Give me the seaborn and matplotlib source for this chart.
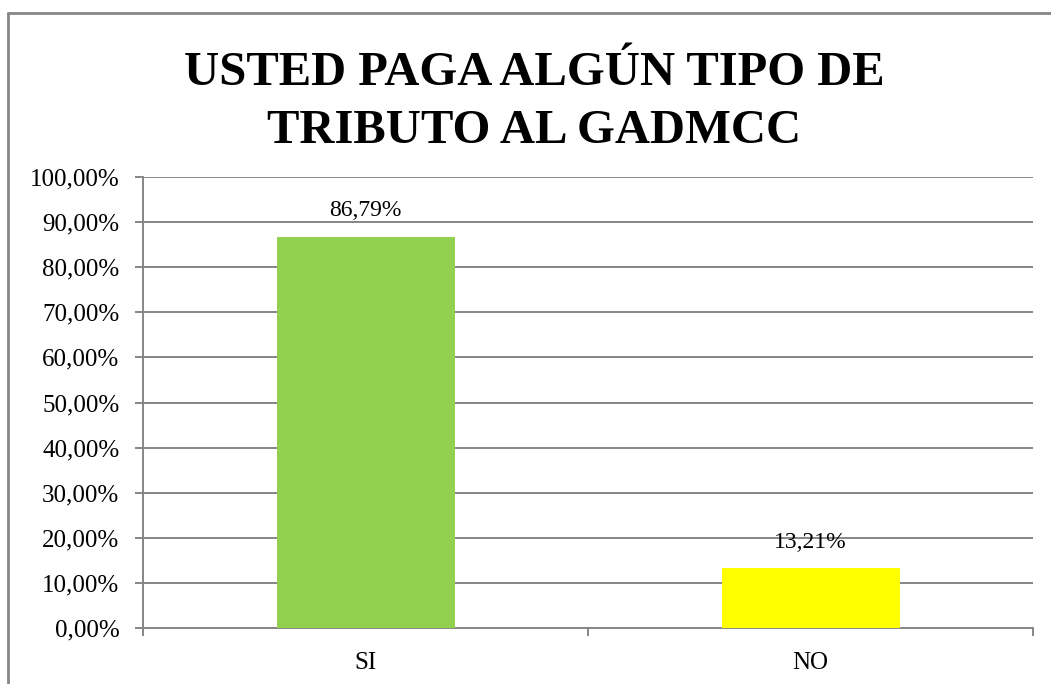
import matplotlib
matplotlib.use("Agg")
import matplotlib.pyplot as plt
import matplotlib.ticker as mticker
from matplotlib.lines import Line2D
import pandas as pd
import seaborn as sns

categories = ["SI", "NO"]
values = [86.79, 13.21]
bar_colors = ["#92D050", "#FFFF00"]
title = "USTED PAGA ALGÚN TIPO DE\nTRIBUTO AL GADMCC"

GRAY = "#868686"

sns.set_theme(style="white")
plt.rcParams["font.family"] = ["Liberation Serif", "DejaVu Serif"]
plt.rcParams["text.color"] = "black"
plt.rcParams["xtick.color"] = "black"
plt.rcParams["ytick.color"] = "black"

df = pd.DataFrame({"respuesta": categories, "pct": values})

fig = plt.figure(figsize=(10.51, 6.84), dpi=100)
ax = fig.add_axes([143 / 1051, 56 / 684, 890 / 1051, 451 / 684])

sns.barplot(
    data=df, x="respuesta", y="pct", hue="respuesta",
    palette=bar_colors, width=0.4, legend=False, ax=ax,
    saturation=1, linewidth=0, zorder=3,
)

ax.set_ylim(0, 100)
ax.set_xlim(-0.5, len(categories) - 0.5)
ax.yaxis.set_major_locator(mticker.MultipleLocator(10))
ax.yaxis.set_major_formatter(
    mticker.FuncFormatter(lambda v, _: f"{v:.2f}%".replace(".", ","))
)
ax.grid(axis="y", color=GRAY, linewidth=1.4, zorder=0)
ax.set_axisbelow(True)

for side in ["top", "right"]:
    ax.spines[side].set_visible(False)
for side in ["left", "bottom"]:
    ax.spines[side].set_color(GRAY)
    ax.spines[side].set_linewidth(1.4)

ax.tick_params(axis="y", which="major", length=6, width=1.4, color=GRAY,
               labelsize=18, pad=11, left=True, labelcolor="black")
ax.tick_params(axis="x", which="major", length=0, labelsize=18, pad=17,
               labelcolor="black")
ax.set_xticks([i - 0.5 for i in range(len(categories) + 1)], minor=True)
ax.tick_params(axis="x", which="minor", length=6, width=1.4, color=GRAY,
               bottom=True, direction="out")
ax.set_xlabel("")
ax.set_ylabel("")

for i, v in enumerate(values):
    ax.annotate(f"{v:.2f}%".replace(".", ","), (i, v), xytext=(0, 11),
                textcoords="offset points", ha="center", va="bottom",
                fontsize=17, color="black")

fig.text(534 / 1051, 1 - 102 / 684, title, ha="center", va="center",
         fontsize=35, fontweight="bold", linespacing=1.4, color="black")

# chart-area border (only top and left visible in the crop)
x0, y0 = 8 / 1051, 1 - 13 / 684
fig.add_artist(Line2D([x0, 1.0], [y0, y0], transform=fig.transFigure,
                      color=GRAY, linewidth=2))
fig.add_artist(Line2D([x0, x0], [0.0, y0], transform=fig.transFigure,
                      color=GRAY, linewidth=2))

fig.savefig("out.png", dpi=100)
